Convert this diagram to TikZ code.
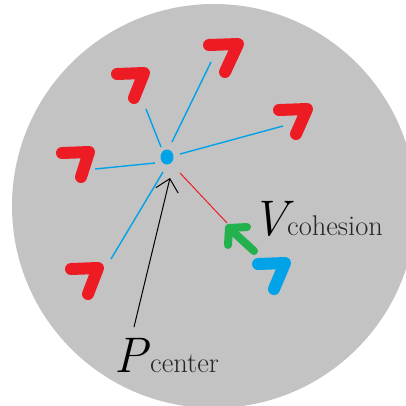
\documentclass[tikz,border=0pt]{standalone}
\usetikzlibrary{arrows.meta,shapes.geometric}
\definecolor{bggray}{RGB}{195,195,195}
\definecolor{boidred}{RGB}{237,28,36}
\definecolor{boidblue}{RGB}{0,162,232}
\definecolor{arrgreen}{RGB}{34,177,76}
\tikzset{
  boidstroke/.style={line width=12pt, line cap=round, line join=round},
  redboid/.style={boidstroke, draw=boidred},
  blueboid/.style={boidstroke, draw=boidblue},
  sightline/.style={draw=boidblue, line width=1.4pt},
  bigsym/.style={font=\fontsize{50}{55}\selectfont\itshape, inner sep=0pt, anchor=base west},
  subtxt/.style={font=\fontsize{28.5}{31}\selectfont, inner sep=0pt, anchor=base west, text=black!85},
}
\begin{document}
\begin{tikzpicture}[x=1pt,y=-1pt]
\useasboundingbox (0,0) rectangle (406,405);
\fill[white] (0,0) rectangle (406,405);
\fill[bggray] (214,206) circle[radius=202];
% boids
\draw[redboid] (209,45) -- (238,44) -- (225,72);
\draw[redboid] (117,74) -- (144,73) -- (134,98);
\draw[redboid] (279,110) -- (307,109) -- (296,134);
\draw[redboid] (62,153) -- (89,152) -- (81,177);
\draw[redboid] (71,269) -- (98,268) -- (88,294);
\draw[blueboid] (258,264) -- (285,263) -- (274,289);
% center
\node[fill=boidblue, ellipse, minimum width=13pt, minimum height=15pt, inner sep=0pt] (ctr) at (167,157) {};
% sight lines
\coordinate (s1a) at (172,142); \coordinate (s1b) at (211,62);
\coordinate (s2a) at (161,147); \coordinate (s2b) at (146,109);
\coordinate (s3a) at (180,154); \coordinate (s3b) at (283,126);
\coordinate (s4a) at (155,163); \coordinate (s4b) at (95,169);
\coordinate (s5a) at (163,172); \coordinate (s5b) at (111,259);
\draw[sightline] (s1a) -- (s1b);
\draw[sightline] (s2a) -- (s2b);
\draw[sightline] (s3a) -- (s3b);
\draw[sightline] (s4a) -- (s4b);
\draw[sightline] (s5a) -- (s5b);
% red line
\coordinate (ra) at (180,173); \coordinate (rb) at (227,223);
\draw[boidred, line width=1pt] (ra) -- (rb);
% green arrow
\coordinate (gtip) at (229,228); \coordinate (gtail) at (254,251);
\coordinate (gb1) at (247,227); \coordinate (gb2) at (228,245);
\draw[arrgreen, line width=8pt, line cap=round, line join=round] (gb1) -- (gtip) -- (gb2);
\draw[arrgreen, line width=8pt, line cap=round] (gtip) -- (gtail);
% black arrow
\coordinate (ptail) at (134,327); \coordinate (ptip) at (170,178);
\draw[line width=1pt, -{Straight Barb[length=12pt, width=23pt]}] (ptail) -- (ptip);
% labels
\node[bigsym] (vsym) at (251,235) {V};
\node[subtxt] (vsub) at (287,235) {cohesion};
\node[bigsym] (psym) at (114,372) {P};
\node[subtxt] (psub) at (150,372) {center};
\end{tikzpicture}
\end{document}
